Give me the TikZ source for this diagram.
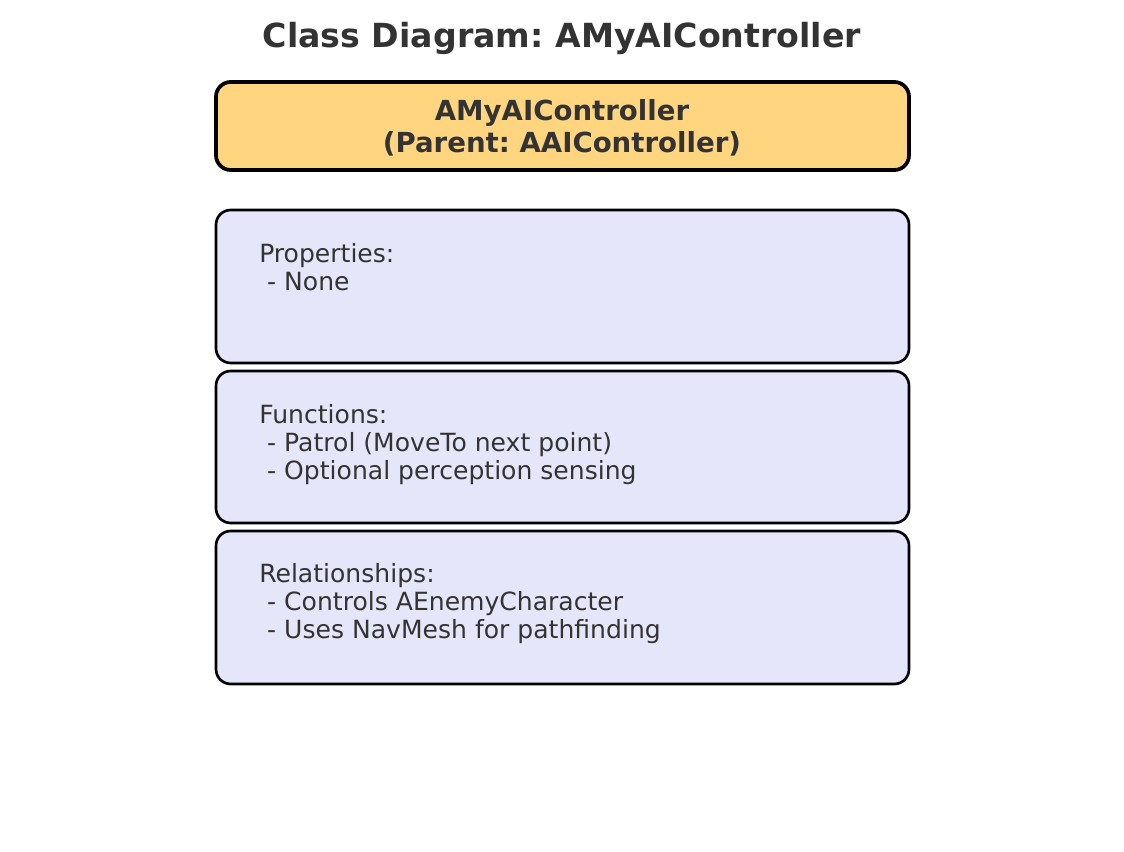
\documentclass[tikz,border=0pt]{standalone}
\usepackage{fontspec}
\setmainfont{DejaVu Sans}
\frenchspacing
\definecolor{txt}{HTML}{333333}
\definecolor{hdrfill}{HTML}{FFD580}
\definecolor{boxfill}{HTML}{E6E6FA}
\tikzset{
  hdrbox/.style={draw=black, fill=hdrfill, line width=2.8pt, rounded corners=11pt},
  membox/.style={draw=black, fill=boxfill, line width=2pt, rounded corners=11pt},
  memtext/.style={anchor=north west, inner sep=0pt, align=left, text=txt,
    font=\fontsize{18.8}{21}\selectfont},
}
\begin{document}
\begin{tikzpicture}[x=0.75pt, y=-0.75pt]
\useasboundingbox (0,0) rectangle (1124,852);
\node[text=txt, font=\fontsize{24.9}{29}\selectfont\bfseries] (title) at (562,38) {Class Diagram: AMyAIController};
\draw[hdrbox] (216,82) rectangle (909,170);
\node[text=txt, align=center, font=\fontsize{20.7}{24}\selectfont\bfseries] (hdr) at (562,128) {AMyAIController\\(Parent: AAIController)};
\draw[membox] (216,210) rectangle (909,363);
\node[memtext] (props) at (259,243) {Properties:\\\ - None};
\draw[membox] (216,371) rectangle (909,523);
\node[memtext] (funcs) at (259,404) {Functions:\\\ - Patrol (MoveTo next point)\\\ - Optional perception sensing};
\draw[membox] (216,531) rectangle (909,684);
\node[memtext] (rels) at (259,563) {Relationships:\\\ - Controls AEnemyCharacter\\\ - Uses NavMesh for pathfinding};
\end{tikzpicture}
\end{document}
